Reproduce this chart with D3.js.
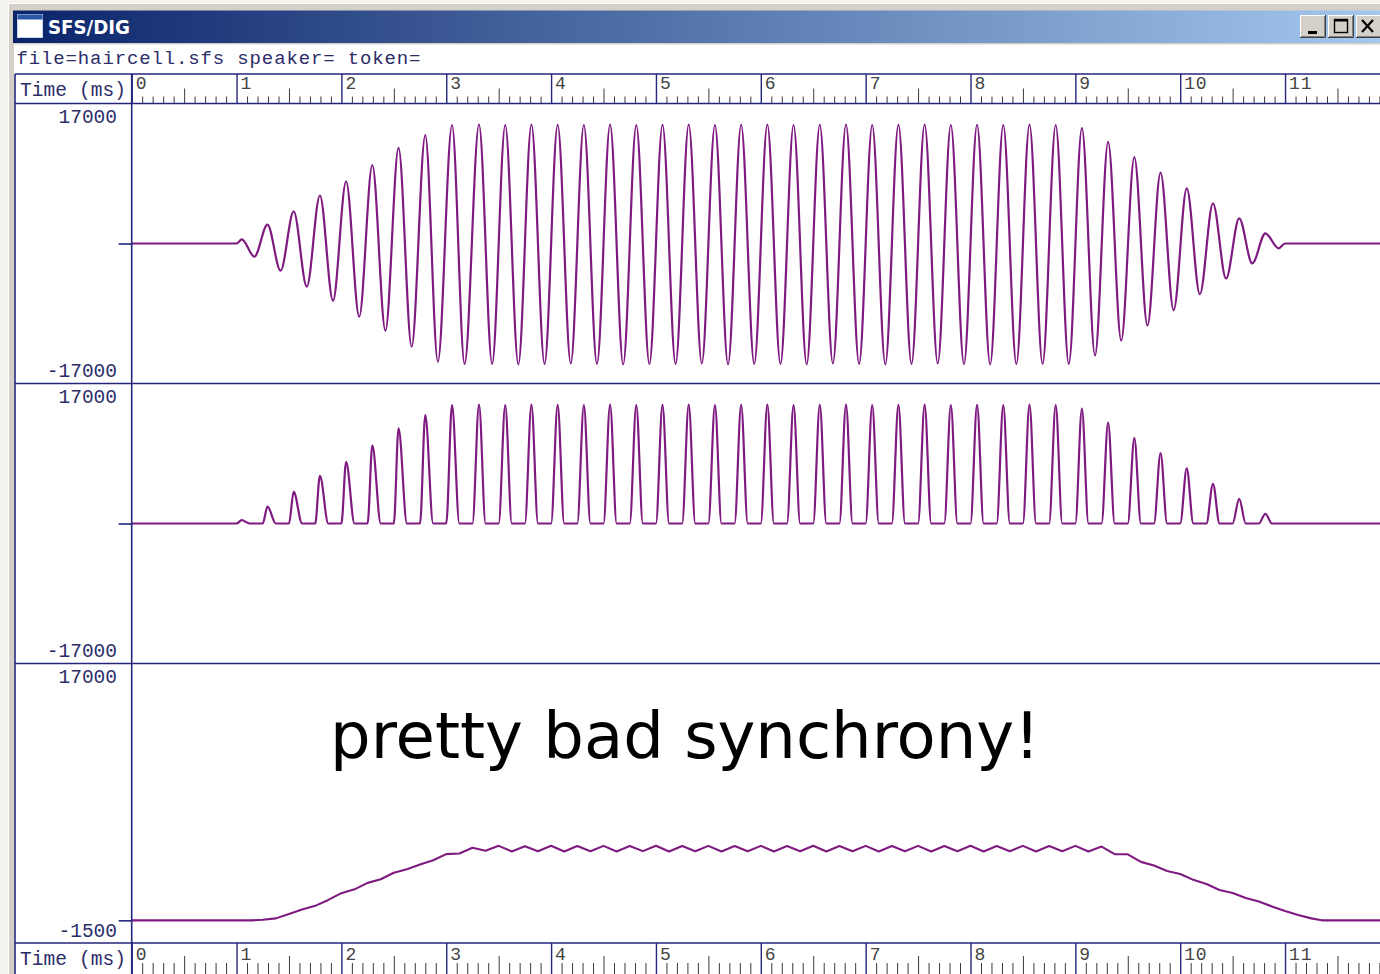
<!DOCTYPE html>
<html>
<head>
<meta charset="utf-8">
<script src="https://cdn.jsdelivr.net/npm/d3@7"></script>
<style>
  html, body { margin: 0; padding: 0; background: #ffffff; overflow: hidden; }
  svg { display: block; }
</style>
</head>
<body>
<svg id="chart" width="1380" height="974"></svg>
<script>
// ---------- data ----------
const windowTitle = "SFS/DIG";
const fileInfo = "file=haircell.sfs speaker= token=";
const axisTitle = "Time (ms)";
const annotation = "pretty bad synchrony!";

const timeDomain = [0, 12];
const majorTicks = [0, 1, 2, 3, 4, 5, 6, 7, 8, 9, 10, 11];
const panelDomains = [[-17000, 17000], [-17000, 17000], [-1500, 17000]];

// tone burst on/off (ms)
const toneOn = 1.0;
const toneOff = 11.0;

// panel 1: stimulus waveform, positive and negative extrema of every cycle
const peakTimes = [1.05, 1.295, 1.545, 1.795, 2.045, 2.295, 2.545, 2.8, 3.055,
  3.3125, 3.5625, 3.8125, 4.0625, 4.3125, 4.5625, 4.8125, 5.0625, 5.3125, 5.5625, 5.8125,
  6.0625, 6.3125, 6.5625, 6.8125, 7.0625, 7.3125, 7.5625, 7.8125, 8.0625, 8.3125, 8.5625,
  8.8125, 9.0625, 9.3125, 9.5625, 9.8125, 10.0625, 10.3125, 10.5625, 10.8125];
const peakValues = [490, 2300, 3900, 5830, 7530, 9530, 11600, 13170, 14390,
  14450, 14390, 14450, 14420, 14390, 14450, 14390, 14420, 14450, 14390, 14420,
  14450, 14390, 14420, 14450, 14390, 14420, 14450, 14390, 14420, 14390, 14450,
  14390, 14000, 12350, 10500, 8600, 6700, 4880, 3060, 1240];
const troughTimes = [1.17, 1.42, 1.67, 1.92, 2.17, 2.42, 2.67, 2.92, 3.175,
  3.4375, 3.6875, 3.9375, 4.1875, 4.4375, 4.6875, 4.9375, 5.1875, 5.4375, 5.6875, 5.9375,
  6.1875, 6.4375, 6.6875, 6.9375, 7.1875, 7.4375, 7.6875, 7.9375, 8.1875, 8.4375, 8.6875,
  8.9375, 9.1875, 9.4375, 9.6875, 9.9375, 10.1875, 10.4375, 10.6875, 10.9375];
const troughValues = [-1600, -3300, -5240, -6940, -8890, -10590, -12530, -14350, -14630,
  -14630, -14690, -14630, -14570, -14630, -14690, -14630, -14630, -14570, -14690, -14630,
  -14630, -14690, -14570, -14630, -14690, -14630, -14570, -14630, -14690, -14630, -14630,
  -14630, -13600, -11800, -9950, -8100, -6150, -4250, -2420, -580];

// panel 2: half-wave rectified output, one lobe per cycle
const rectOnsets = [1.0, 1.25, 1.5, 1.75, 2.0, 2.25, 2.5, 2.75, 3.0, 3.25, 3.5, 3.75,
  4.0, 4.25, 4.5, 4.75, 5.0, 5.25, 5.5, 5.75, 6.0, 6.25, 6.5, 6.75, 7.0, 7.25, 7.5, 7.75,
  8.0, 8.25, 8.5, 8.75, 9.0, 9.25, 9.5, 9.75, 10.0, 10.25, 10.5, 10.75];
const rectOffsets = [1.125, 1.375, 1.625, 1.875, 2.125, 2.375, 2.625, 2.875, 3.125, 3.375,
  3.625, 3.875, 4.125, 4.375, 4.625, 4.875, 5.125, 5.375, 5.625, 5.875, 6.125, 6.375,
  6.625, 6.875, 7.125, 7.375, 7.625, 7.875, 8.125, 8.375, 8.625, 8.875, 9.125, 9.375,
  9.625, 9.875, 10.125, 10.375, 10.625, 10.875];
const rectPeakValues = [400, 2050, 3850, 5800, 7500, 9500, 11550, 13150, 14390,
  14450, 14390, 14450, 14420, 14390, 14450, 14390, 14420, 14450, 14390, 14420,
  14450, 14390, 14420, 14450, 14390, 14420, 14450, 14390, 14420, 14390, 14450,
  14390, 13950, 12250, 10400, 8560, 6700, 4820, 3000, 1180];

// panel 3: smoothed (low-passed) response
const smoothTimes = [0, 1.15,
  1.25, 1.375, 1.5, 1.625, 1.75, 1.875, 2.0, 2.125, 2.25, 2.375, 2.5, 2.625, 2.75, 2.875,
  3.0, 3.125, 3.25, 3.375, 3.5,
  3.625, 3.75, 3.875, 4.0, 4.125, 4.25, 4.375, 4.5, 4.625, 4.75, 4.875, 5.0, 5.125, 5.25,
  5.375, 5.5, 5.625, 5.75, 5.875, 6.0, 6.125, 6.25, 6.375, 6.5, 6.625, 6.75, 6.875, 7.0,
  7.125, 7.25, 7.375, 7.5, 7.625, 7.75, 7.875, 8.0, 8.125, 8.25, 8.375, 8.5, 8.625, 8.75,
  8.875, 9.0, 9.125,
  9.25, 9.375, 9.5, 9.625, 9.75, 9.875, 10.0, 10.125, 10.25, 10.375, 10.5, 10.625, 10.75,
  10.875, 11.0, 11.125, 11.25, 11.35, 12];
const smoothValues = [0, 0,
  40, 130, 420, 720, 960, 1350, 1800, 2050, 2480, 2720, 3150, 3380, 3700, 3980,
  4380, 4420, 4800, 4600, 4930,
  4560, 4910, 4570, 4940, 4560, 4920, 4570, 4930, 4560, 4920, 4580, 4940, 4560, 4920,
  4570, 4930, 4560, 4920, 4570, 4930, 4560, 4920, 4570, 4940, 4560, 4920, 4570, 4930,
  4560, 4920, 4570, 4930, 4560, 4920, 4570, 4940, 4560, 4920, 4570, 4930, 4560, 4920,
  4570, 4930, 4560,
  4880, 4380, 4370, 3870, 3630, 3270, 3070, 2680, 2410, 2010, 1810, 1480, 1250,
  920, 620, 360, 130, 0, 0];

// ---------- layout ----------
const W = 1380, H = 974;
const frameLeft = 15;
const plotLeft = 131.7;
const msWidth = 104.85;
const rulerTop = [74, 943];
const rulerBottom = [103.5, 976];
const panelTop = [103.5, 383.5, 663.5];
const panelBottom = [383.5, 663.5, 943];

const NAVY = "#25257c";
const TEXT = "#2c2c68";
const WAVE = "#7e1a80";
const MONO = "'Liberation Mono', 'DejaVu Sans Mono', monospace";

const svg = d3.select("#chart");
const defs = svg.append("defs");

// title-bar gradient
const grad = defs.append("linearGradient").attr("id", "titleGrad")
  .attr("gradientUnits", "userSpaceOnUse")
  .attr("x1", 13).attr("x2", 1400).attr("y1", 0).attr("y2", 0);
grad.append("stop").attr("offset", 0).attr("stop-color", "#0a246a");
grad.append("stop").attr("offset", 1).attr("stop-color", "#a6caf0");

defs.append("clipPath").attr("id", "plotClip")
  .append("rect").attr("x", plotLeft).attr("y", panelTop[0])
  .attr("width", W - plotLeft).attr("height", panelBottom[2] - panelTop[0]);

// ---------- window chrome ----------
svg.append("rect").attr("x", 0).attr("y", 0).attr("width", W).attr("height", H).attr("fill", "#f4f3ee");
svg.append("rect").attr("x", 8).attr("y", 3).attr("width", W).attr("height", H)
  .attr("fill", "#d4d0c8");
svg.append("line").attr("x1", 8.5).attr("x2", 8.5).attr("y1", 3).attr("y2", H)
  .attr("stroke", "#ffffff").attr("stroke-width", 1);
svg.append("line").attr("x1", 8).attr("x2", W).attr("y1", 3.5).attr("y2", 3.5)
  .attr("stroke", "#ffffff").attr("stroke-width", 1);

svg.append("rect").attr("x", 13).attr("y", 10.5).attr("width", W - 13).attr("height", 32.5)
  .attr("fill", "url(#titleGrad)");

// window icon
svg.append("rect").attr("x", 17.5).attr("y", 14.5).attr("width", 25).attr("height", 23)
  .attr("fill", "#ffffff").attr("stroke", "#c8d4e8").attr("stroke-width", 1);
svg.append("rect").attr("x", 17.5).attr("y", 14.5).attr("width", 25).attr("height", 5)
  .attr("fill", "#2a56a8");

svg.append("text").attr("x", 48).attr("y", 34)
  .attr("font-family", "'DejaVu Sans Condensed', 'DejaVu Sans', sans-serif")
  .attr("font-weight", "bold").attr("font-size", 19)
  .attr("textLength", 82).attr("lengthAdjust", "spacingAndGlyphs")
  .attr("fill", "#ffffff").text(windowTitle);

// caption buttons
function captionButton(x0, kind) {
  const g = svg.append("g");
  const w = 26, h = 23, y0 = 15;
  g.append("rect").attr("x", x0).attr("y", y0).attr("width", w).attr("height", h).attr("fill", "#d4d0c8");
  g.append("path").attr("d", `M${x0 + 0.5},${y0 + h}V${y0 + 0.5}H${x0 + w}`)
    .attr("stroke", "#ffffff").attr("fill", "none");
  g.append("path").attr("d", `M${x0},${y0 + h - 0.5}H${x0 + w - 0.5}V${y0}`)
    .attr("stroke", "#404040").attr("fill", "none");
  g.append("path").attr("d", `M${x0 + 1},${y0 + h - 1.5}H${x0 + w - 1.5}V${y0 + 1}`)
    .attr("stroke", "#808080").attr("fill", "none");
  if (kind === "min") {
    g.append("rect").attr("x", x0 + 8).attr("y", y0 + 16).attr("width", 9).attr("height", 3).attr("fill", "#000");
  } else if (kind === "max") {
    g.append("rect").attr("x", x0 + 6.5).attr("y", y0 + 4.5).attr("width", 13).attr("height", 13)
      .attr("fill", "none").attr("stroke", "#000").attr("stroke-width", 1.4);
    g.append("rect").attr("x", x0 + 6).attr("y", y0 + 4).attr("width", 14).attr("height", 2.5).attr("fill", "#000");
  } else {
    g.append("path").attr("d", `M${x0 + 6},${y0 + 5}L${x0 + 17},${y0 + 17}M${x0 + 17},${y0 + 5}L${x0 + 6},${y0 + 17}`)
      .attr("stroke", "#000").attr("stroke-width", 2.2);
  }
}
captionButton(1300, "min");
captionButton(1328, "max");
captionButton(1356, "close");

// client area
svg.append("rect").attr("x", 14).attr("y", 44.5).attr("width", W - 14).attr("height", H - 44.5)
  .attr("fill", "#ffffff");

svg.append("text").attr("x", 16.5).attr("y", 63.5)
  .attr("font-family", MONO).attr("font-size", 19)
  .attr("textLength", 404).attr("lengthAdjust", "spacing")
  .attr("fill", TEXT).text(fileInfo);

// ---------- scales ----------
const x = d3.scaleLinear().domain(timeDomain).range([plotLeft, plotLeft + msWidth * (timeDomain[1] - timeDomain[0])]);
const yScales = panelDomains.map((dom, i) =>
  d3.scaleLinear().domain(dom).range([panelBottom[i], panelTop[i]]));

// ---------- waveforms ----------
const line = d3.line().x(d => x(d[0])).y(d => d[2](d[1])).curve(d3.curveMonotoneX);

const wave = [[timeDomain[0], 0], [toneOn, 0]];
peakTimes.forEach((t, i) => {
  wave.push([t, peakValues[i]]);
  wave.push([troughTimes[i], troughValues[i]]);
});
wave.push([toneOff, 0], [timeDomain[1], 0]);

const rect = [[timeDomain[0], 0]];
rectOnsets.forEach((t, i) => {
  rect.push([t, 0], [peakTimes[i], rectPeakValues[i]], [rectOffsets[i], 0]);
});
rect.push([timeDomain[1], 0]);

const smooth = smoothTimes.map((t, i) => [t, smoothValues[i]]);

const plots = svg.append("g").attr("clip-path", "url(#plotClip)");
[wave, rect].forEach((series, i) => {
  plots.append("path")
    .attr("d", line(series.map(d => [d[0], d[1], yScales[i]])))
    .attr("fill", "none").attr("stroke", WAVE).attr("stroke-width", 2.2)
    .attr("stroke-linejoin", "round");
});
plots.append("path")
  .attr("d", line.curve(d3.curveLinear)(smooth.map(d => [d[0], d[1], yScales[2]])))
  .attr("fill", "none").attr("stroke", WAVE).attr("stroke-width", 2.1)
  .attr("stroke-linejoin", "round");

// ---------- frame lines ----------
const frame = svg.append("g").attr("stroke", NAVY).attr("stroke-width", 1.6);
[rulerTop[0], panelTop[0], panelTop[1], panelTop[2], rulerTop[1]].forEach(yy => {
  frame.append("line").attr("x1", frameLeft).attr("x2", W).attr("y1", yy).attr("y2", yy);
});
frame.append("line").attr("x1", frameLeft).attr("x2", frameLeft).attr("y1", rulerTop[0]).attr("y2", H);
frame.append("line").attr("x1", plotLeft).attr("x2", plotLeft).attr("y1", rulerTop[0]).attr("y2", H);

// zero-level ticks on the amplitude axes
yScales.forEach(ys => {
  const g = svg.append("g").attr("transform", `translate(${plotLeft},0)`)
    .call(d3.axisLeft(ys).tickValues([0]).tickSize(13).tickFormat(""));
  g.select(".domain").remove();
  g.selectAll(".tick line").attr("stroke", NAVY).attr("stroke-width", 1.6);
});

// amplitude labels
panelDomains.forEach((dom, i) => {
  svg.append("text").attr("x", 117).attr("y", yScales[i](dom[1]) + 19.5)
    .attr("text-anchor", "end").attr("font-family", MONO).attr("font-size", 19.5)
    .attr("fill", TEXT).text(String(dom[1]));
  svg.append("text").attr("x", 117).attr("y", yScales[i](dom[0]) - 6.5)
    .attr("text-anchor", "end").attr("font-family", MONO).attr("font-size", 19.5)
    .attr("fill", TEXT).text(String(dom[0]));
});

// ---------- time rulers ----------
const fineTicks = x.ticks(120);
const minorTicks = fineTicks.filter(v => Math.round(v * 10) % 5 !== 0);
const halfTicks = fineTicks.filter(v => Math.round(v * 10) % 10 === 5);

function ruler(top, bottom, minorLen, halfLen, labelBase) {
  const g = svg.append("g").attr("transform", `translate(0,${bottom})`);
  const parts = [
    [minorTicks, minorLen, false],
    [halfTicks, halfLen, false],
    [majorTicks, bottom - top, true]
  ];
  parts.forEach(([vals, len, labelled]) => {
    const a = g.append("g").call(
      d3.axisTop(x).tickValues(vals).tickSize(len)
        .tickFormat(labelled ? (d => String(d)) : ""));
    a.select(".domain").remove();
    a.selectAll(".tick line").attr("stroke", labelled ? NAVY : "#3a3a3a")
      .attr("stroke-width", labelled ? 1.4 : 1);
    a.selectAll(".tick text")
      .attr("x", 3.5).attr("y", labelBase - bottom).attr("dy", null)
      .attr("text-anchor", "start")
      .attr("font-family", MONO).attr("font-size", 18)
      .attr("letter-spacing", 0.8)
      .attr("fill", "#444444");
  });
  svg.append("text").attr("x", 20).attr("y", top + 21.5)
    .attr("font-family", MONO).attr("font-size", 19.5)
    .attr("textLength", 106).attr("lengthAdjust", "spacing")
    .attr("fill", TEXT).text(axisTitle);
}
ruler(rulerTop[0], rulerBottom[0], 7, 15, 88.5);
ruler(rulerTop[1], rulerBottom[1], 13, 20, 960);

// ---------- annotation ----------
svg.append("text").attr("x", 330).attr("y", 758)
  .attr("font-family", "'DejaVu Sans', Verdana, sans-serif").attr("font-size", 64)
  .attr("fill", "#000000").text(annotation);
</script>
</body>
</html>
